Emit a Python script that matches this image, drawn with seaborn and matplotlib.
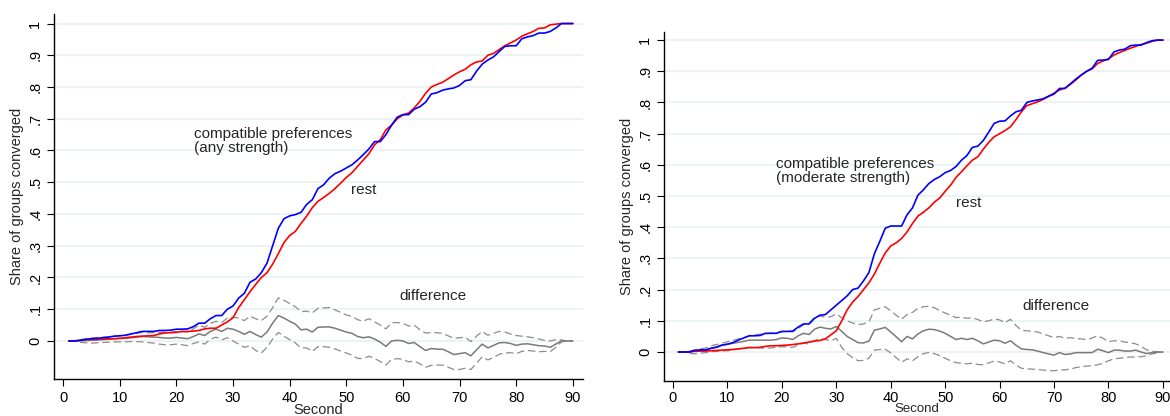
import numpy as np
import pandas as pd
import matplotlib
matplotlib.use("Agg")
import matplotlib.pyplot as plt
import seaborn as sns

seconds = list(range(1, 91))

# Panel A: compatible preferences (any strength) vs rest
blue_a = [0.0, 0.0, 0.002, 0.005, 0.007, 0.008, 0.01, 0.012, 0.015, 0.016,
          0.018, 0.022, 0.026, 0.03, 0.03, 0.03, 0.033, 0.033, 0.034, 0.037,
          0.037, 0.038, 0.045, 0.056, 0.056, 0.07, 0.08, 0.08, 0.1, 0.11,
          0.135, 0.15, 0.185, 0.195, 0.215, 0.245, 0.3, 0.355, 0.385, 0.394,
          0.398, 0.405, 0.43, 0.445, 0.48, 0.492, 0.513, 0.527, 0.535, 0.545,
          0.555, 0.57, 0.587, 0.605, 0.628, 0.628, 0.65, 0.68, 0.705, 0.713,
          0.713, 0.73, 0.738, 0.752, 0.778, 0.782, 0.79, 0.794, 0.797, 0.805,
          0.82, 0.823, 0.85, 0.872, 0.885, 0.895, 0.912, 0.928, 0.93, 0.93,
          0.952, 0.958, 0.962, 0.97, 0.97, 0.975, 0.986, 1.0, 1.0, 1.0]
red_a = [0.0, 0.0, 0.002, 0.004, 0.005, 0.005, 0.006, 0.007, 0.007, 0.008,
         0.01, 0.012, 0.014, 0.015, 0.016, 0.017, 0.022, 0.025, 0.026, 0.027,
         0.03, 0.03, 0.031, 0.033, 0.038, 0.04, 0.04, 0.05, 0.06, 0.073,
         0.105, 0.13, 0.155, 0.178, 0.2, 0.215, 0.242, 0.275, 0.31, 0.332,
         0.345, 0.37, 0.393, 0.42, 0.44, 0.452, 0.465, 0.48, 0.497, 0.515,
         0.53, 0.55, 0.57, 0.59, 0.618, 0.634, 0.665, 0.68, 0.7, 0.712,
         0.718, 0.734, 0.755, 0.78, 0.8, 0.808, 0.815, 0.826, 0.838, 0.848,
         0.856, 0.87, 0.879, 0.882, 0.9, 0.906, 0.918, 0.93, 0.939, 0.948,
         0.96, 0.968, 0.975, 0.985, 0.986, 0.996, 0.998, 1.0, 1.0, 1.0]
diff_a = [0.0, 0.0, 0.0, 0.001, 0.002, 0.003, 0.004, 0.005, 0.007, 0.008,
          0.008, 0.01, 0.012, 0.014, 0.013, 0.012, 0.011, 0.009, 0.009, 0.011,
          0.009, 0.007, 0.014, 0.022, 0.017, 0.03, 0.037, 0.03, 0.04, 0.037,
          0.03, 0.021, 0.03, 0.02, 0.012, 0.028, 0.056, 0.08, 0.072, 0.062,
          0.053, 0.035, 0.037, 0.028, 0.043, 0.044, 0.044, 0.04, 0.034, 0.028,
          0.024, 0.014, 0.01, 0.013, 0.006, -0.004, -0.017, 0.0, 0.002, 0.0,
          -0.008, -0.005, -0.018, -0.03, -0.024, -0.026, -0.026, -0.034, -0.043, -0.04,
          -0.037, -0.047, -0.028, -0.01, -0.022, -0.014, -0.006, -0.005, -0.008, -0.014,
          -0.01, -0.009, -0.012, -0.015, -0.016, -0.02, -0.01, 0.0, 0.0, 0.0]
upper_a = [0.0, 0.001, 0.004, 0.007, 0.009, 0.011, 0.012, 0.013, 0.015, 0.017,
           0.018, 0.021, 0.024, 0.027, 0.026, 0.026, 0.027, 0.027, 0.027, 0.03,
           0.029, 0.028, 0.038, 0.05, 0.043, 0.055, 0.062, 0.058, 0.072, 0.075,
           0.072, 0.064, 0.078, 0.07, 0.064, 0.078, 0.105, 0.136, 0.128, 0.118,
           0.108, 0.092, 0.094, 0.088, 0.103, 0.104, 0.105, 0.098, 0.09, 0.082,
           0.077, 0.067, 0.062, 0.07, 0.06, 0.05, 0.038, 0.057, 0.058, 0.055,
           0.047, 0.05, 0.035, 0.025, 0.026, 0.026, 0.024, 0.016, 0.008, 0.01,
           0.012, -0.002, 0.015, 0.03, 0.018, 0.024, 0.03, 0.028, 0.022, 0.017,
           0.015, 0.013, 0.01, 0.006, 0.002, 0.0, 0.004, 0.003, 0.0, 0.0]
lower_a = [0.0, -0.001, -0.004, -0.006, -0.007, -0.006, -0.005, -0.004, -0.003, -0.003,
           -0.003, -0.002, -0.002, -0.003, -0.005, -0.007, -0.01, -0.012, -0.012, -0.01,
           -0.012, -0.015, -0.008, -0.003, -0.01, 0.005, 0.012, 0.003, 0.01, 0.0,
           -0.01, -0.02, -0.015, -0.03, -0.038, -0.02, 0.006, 0.027, 0.015, 0.004,
           -0.006, -0.022, -0.022, -0.033, -0.018, -0.018, -0.02, -0.025, -0.032, -0.038,
           -0.045, -0.055, -0.056, -0.048, -0.055, -0.065, -0.076, -0.058, -0.056, -0.058,
           -0.066, -0.063, -0.072, -0.083, -0.077, -0.076, -0.076, -0.083, -0.09, -0.09,
           -0.086, -0.09, -0.07, -0.05, -0.06, -0.052, -0.042, -0.038, -0.037, -0.04,
           -0.033, -0.03, -0.032, -0.034, -0.033, -0.034, -0.02, -0.003, 0.0, 0.0]

# Panel B: compatible preferences (moderate strength) vs rest
blue_b = [0.0, 0.0, 0.0, 0.005, 0.007, 0.007, 0.012, 0.015, 0.022, 0.025,
          0.03, 0.038, 0.045, 0.052, 0.052, 0.053, 0.06, 0.06, 0.06, 0.066,
          0.066, 0.067, 0.08, 0.09, 0.09, 0.108, 0.118, 0.12, 0.135, 0.15,
          0.165, 0.18, 0.2, 0.205, 0.228, 0.255, 0.315, 0.355, 0.397, 0.404,
          0.404, 0.404, 0.44, 0.462, 0.503, 0.52, 0.54, 0.553, 0.562, 0.575,
          0.582, 0.595, 0.615, 0.63, 0.656, 0.66, 0.678, 0.705, 0.733, 0.74,
          0.741, 0.757, 0.77, 0.775, 0.8, 0.805, 0.808, 0.812, 0.82, 0.827,
          0.845, 0.845, 0.86, 0.875, 0.888, 0.9, 0.91, 0.935, 0.936, 0.938,
          0.962, 0.968, 0.971, 0.982, 0.984, 0.984, 0.992, 0.998, 1.0, 1.0]
red_b = [0.0, 0.0, 0.001, 0.002, 0.003, 0.003, 0.004, 0.005, 0.006, 0.007,
         0.008, 0.01, 0.012, 0.014, 0.014, 0.015, 0.018, 0.02, 0.02, 0.021,
         0.022, 0.024, 0.026, 0.029, 0.032, 0.035, 0.037, 0.042, 0.055, 0.068,
         0.1, 0.135, 0.16, 0.178, 0.2, 0.222, 0.25, 0.285, 0.318, 0.34,
         0.35, 0.364, 0.385, 0.412, 0.436, 0.448, 0.462, 0.48, 0.494, 0.515,
         0.535, 0.56, 0.578, 0.597, 0.615, 0.626, 0.65, 0.672, 0.69, 0.7,
         0.71, 0.722, 0.745, 0.77, 0.79, 0.796, 0.802, 0.81, 0.82, 0.83,
         0.84, 0.846, 0.858, 0.872, 0.888, 0.9, 0.908, 0.925, 0.933, 0.94,
         0.952, 0.96, 0.967, 0.974, 0.98, 0.986, 0.99, 0.996, 1.0, 1.0]
diff_b = [0.0, 0.0, 0.0, 0.003, 0.005, 0.005, 0.012, 0.017, 0.022, 0.025,
          0.028, 0.031, 0.034, 0.038, 0.038, 0.038, 0.038, 0.038, 0.04, 0.045,
          0.044, 0.04, 0.052, 0.06, 0.056, 0.073, 0.08, 0.076, 0.074, 0.082,
          0.066, 0.05, 0.04, 0.03, 0.029, 0.035, 0.07, 0.074, 0.079, 0.064,
          0.049, 0.033, 0.05, 0.042, 0.058, 0.068, 0.073, 0.072, 0.067, 0.06,
          0.05, 0.04, 0.044, 0.04, 0.044, 0.036, 0.026, 0.032, 0.038, 0.036,
          0.028, 0.036, 0.022, 0.01, 0.008, 0.007, 0.003, -0.002, -0.006, -0.01,
          -0.002, -0.008, -0.006, -0.002, -0.002, -0.002, -0.002, 0.009, 0.004, -0.002,
          0.006, 0.006, 0.003, 0.003, 0.006, 0.0, -0.005, -0.002, 0.0, 0.0]
upper_b = [0.0, 0.0, 0.002, 0.007, 0.01, 0.013, 0.02, 0.024, 0.028, 0.033,
           0.037, 0.042, 0.046, 0.051, 0.055, 0.057, 0.058, 0.06, 0.062, 0.065,
           0.065, 0.065, 0.075, 0.088, 0.092, 0.112, 0.115, 0.112, 0.113, 0.122,
           0.11, 0.1, 0.093, 0.088, 0.09, 0.097, 0.135, 0.14, 0.145, 0.132,
           0.118, 0.105, 0.12, 0.127, 0.14, 0.145, 0.147, 0.142, 0.133, 0.125,
           0.118, 0.11, 0.112, 0.108, 0.11, 0.104, 0.097, 0.1, 0.106, 0.103,
           0.094, 0.105, 0.085, 0.07, 0.068, 0.066, 0.064, 0.058, 0.052, 0.046,
           0.05, 0.044, 0.046, 0.043, 0.042, 0.04, 0.045, 0.052, 0.044, 0.033,
           0.036, 0.036, 0.032, 0.03, 0.026, 0.018, 0.007, 0.003, 0.0, 0.0]
lower_b = [0.0, 0.0, -0.004, -0.006, -0.004, -0.002, 0.001, 0.002, 0.003, 0.004,
           0.007, 0.01, 0.013, 0.015, 0.014, 0.013, 0.012, 0.013, 0.015, 0.017,
           0.016, 0.015, 0.022, 0.028, 0.026, 0.036, 0.044, 0.04, 0.036, 0.044,
           0.015, -0.005, -0.018, -0.028, -0.027, -0.02, 0.006, 0.008, 0.009, -0.003,
           -0.018, -0.033, -0.022, -0.028, -0.015, -0.005, -0.002, -0.005, -0.012, -0.02,
           -0.028, -0.034, -0.036, -0.038, -0.036, -0.04, -0.041, -0.035, -0.029, -0.032,
           -0.038, -0.028, -0.042, -0.052, -0.054, -0.055, -0.056, -0.058, -0.06, -0.06,
           -0.058, -0.057, -0.055, -0.05, -0.047, -0.045, -0.044, -0.041, -0.036, -0.028,
           -0.022, -0.02, -0.018, -0.016, -0.016, -0.015, -0.012, -0.006, -0.003, 0.0]

ytick_vals = [0, 0.1, 0.2, 0.3, 0.4, 0.5, 0.6, 0.7, 0.8, 0.9, 1.0]
ytick_labels = ["0", ".1", ".2", ".3", ".4", ".5", ".6", ".7", ".8", ".9", "1"]
xtick_vals = [0, 10, 20, 30, 40, 50, 60, 70, 80, 90]

sns.set_style("white")
plt.rcParams["font.family"] = ["Liberation Sans", "DejaVu Sans"]

fig = plt.figure(figsize=(11.7, 4.16), dpi=100)
FS = 10.5
FS_TXT = 11
GRID = "#eaf2f3"


def panel(ax, blue, red, diff, up, lo, xlim, ylim, label1, lab_pos, rest_pos, diff_pos,
          xpad, xfs, xtickpad):
    for yv in ytick_vals:
        ax.axhline(yv, color=GRID, lw=1.3, zorder=0)
    dash = (6, 3)
    sns.lineplot(x=seconds, y=up, ax=ax, color="#8c8c8c", lw=0.9)
    sns.lineplot(x=seconds, y=lo, ax=ax, color="#8c8c8c", lw=0.9)
    ax.lines[-1].set_dashes(dash)
    ax.lines[-2].set_dashes(dash)
    sns.lineplot(x=seconds, y=diff, ax=ax, color="#7a7a7a", lw=1.1)
    sns.lineplot(x=seconds, y=red, ax=ax, color="#ff0000", lw=1.2)
    sns.lineplot(x=seconds, y=blue, ax=ax, color="#0000ff", lw=1.2)
    ax.set_xlim(*xlim)
    ax.set_ylim(*ylim)
    ax.set_yticks(ytick_vals)
    ax.set_yticklabels(ytick_labels, rotation=90, va="center")
    ax.set_xticks(xtick_vals)
    ax.tick_params(axis="both", labelsize=FS, length=5, width=0.8,
                   direction="out", colors="black", left=True, bottom=True)
    ax.tick_params(axis="x", pad=xtickpad)
    for s in ["top", "right"]:
        ax.spines[s].set_visible(False)
    for s in ["left", "bottom"]:
        ax.spines[s].set_color("black")
        ax.spines[s].set_linewidth(1.0)
    ax.set_xlabel("Second", fontsize=xfs, labelpad=xpad)
    ax.set_ylabel("Share of groups converged", fontsize=FS, labelpad=3)
    ax.text(lab_pos[0], lab_pos[1], label1, fontsize=FS_TXT, ha="left", va="top",
            linespacing=1.0)
    ax.text(rest_pos[0], rest_pos[1], "rest", fontsize=FS_TXT, ha="left", va="center")
    ax.text(diff_pos[0], diff_pos[1], "difference", fontsize=FS_TXT, ha="left", va="center")
    ax.set_facecolor("white")


ax1 = fig.add_axes([0.0462, 0.0889, 0.4521, 0.8774])
panel(ax1, blue_a, red_a, diff_a, upper_a, lower_a, (-1.6, 91.8), (-0.12, 1.03),
      "compatible preferences\n(any strength)", (23.1, 0.674), (50.9, 0.476), (59.3, 0.14),
      -1, FS, 3.5)

ax2 = fig.add_axes([0.5675, 0.0841, 0.4325, 0.8390])
panel(ax2, blue_b, red_b, diff_b, upper_b, lower_b, (-1.65, 91.3), (-0.093, 1.026),
      "compatible preferences\n(moderate strength)", (19.0, 0.624), (51.9, 0.477), (64.2, 0.147),
      -1, 9.5, 2.0)

fig.savefig("out.png", dpi=100, facecolor="white")
